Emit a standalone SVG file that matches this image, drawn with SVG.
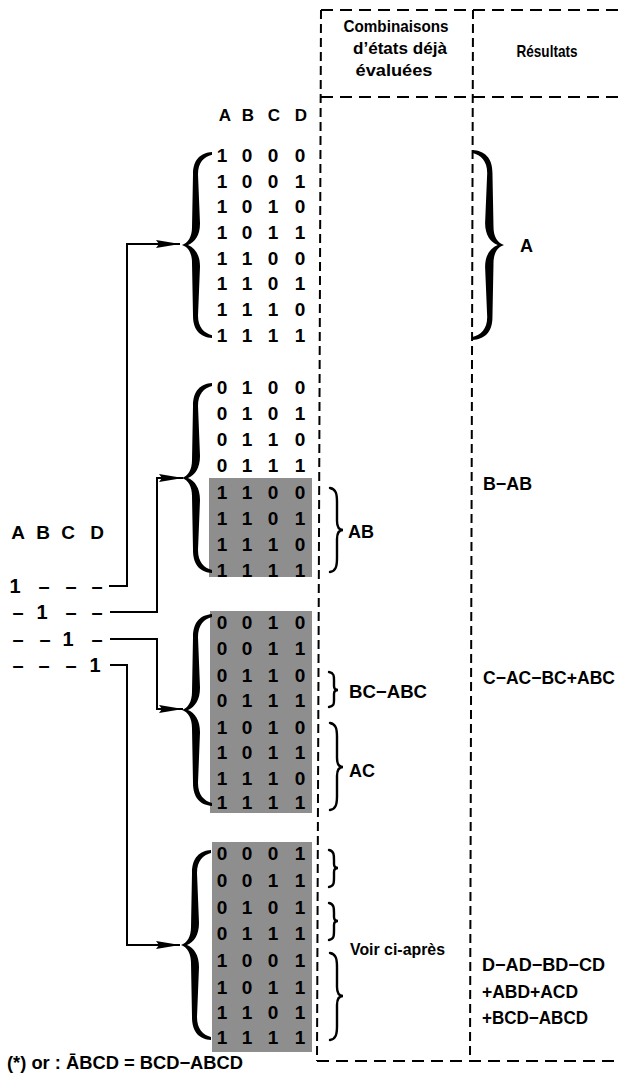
<svg xmlns="http://www.w3.org/2000/svg" width="619" height="1076" viewBox="0 0 619 1076">
<style>
.t{font-family:"Liberation Sans",Arial,sans-serif;font-weight:bold;fill:#000}
.hd{font-size:17px;text-anchor:middle}
.dg{font-size:19px;text-anchor:middle}
.lb{font-size:18px}
.frame{fill:none;stroke:#000;stroke-width:2}
.fh{stroke-dasharray:12 7}
.fv{stroke-dasharray:9 5}
.con{fill:none;stroke:#000;stroke-width:2}
.sb{fill:none;stroke:#000;stroke-width:2.4;stroke-linecap:round}
.shade{fill:#8e8e8e}
</style>
<defs>
<path id="brace" d="M30,-95 C19,-94 11,-88 11,-72 L10,-18 C10,-8 6,-2 0,0 C6,2 10,8 10,18 L11,72 C11,88 19,94 30,95 L30,92 C22,90 16,84 16,72 L18,22 C18,10 13,3 6,0 C13,-3 18,-10 18,-22 L16,-72 C16,-84 22,-90 30,-92 Z" fill="#000"/>
<marker id="arr" viewBox="0 0 24 8" refX="24" refY="4" markerWidth="24" markerHeight="8" markerUnits="userSpaceOnUse" orient="auto">
<path d="M0,0 L24,4 L0,8 L3,4 Z" fill="#000"/>
</marker>
</defs>

<g id="frame">
<line class="frame fh" x1="321" y1="10" x2="619" y2="10"/>
<line class="frame fh" x1="321" y1="97" x2="619" y2="97"/>
<line class="frame fh" x1="317" y1="1061" x2="619" y2="1061"/>
<line class="frame fv" x1="321" y1="10" x2="317" y2="1061"/>
<line class="frame fv" x1="473" y1="10" x2="470" y2="1061"/>
</g>

<g id="header">
<text class="t hd" x="396" y="32" textLength="105" lengthAdjust="spacingAndGlyphs">Combinaisons</text>
<text class="t hd" x="400" y="54" textLength="94" lengthAdjust="spacingAndGlyphs">d’états déjà</text>
<text class="t hd" x="394" y="76" textLength="77" lengthAdjust="spacingAndGlyphs">évaluées</text>
<text class="t hd" x="547" y="57" textLength="61" lengthAdjust="spacingAndGlyphs">Résultats</text>
</g>

<g id="matrix-header">
<text class="t" style="font-size:17px;text-anchor:middle" x="225 248 274 301" y="121">ABCD</text>
</g>

<g id="group1">
<use href="#brace" transform="translate(182,245) scale(1,0.98)"/>
<text class="t dg" x="222 247 273 300" y="162">1000</text>
<text class="t dg" x="222 247 273 300" y="188">1001</text>
<text class="t dg" x="222 247 273 300" y="213">1010</text>
<text class="t dg" x="222 247 273 300" y="239">1011</text>
<text class="t dg" x="222 247 273 300" y="265">1100</text>
<text class="t dg" x="222 247 273 300" y="290">1101</text>
<text class="t dg" x="222 247 273 300" y="316">1110</text>
<text class="t dg" x="222 247 273 300" y="342">1111</text>
</g>

<g id="group2">
<rect class="shade" x="209" y="478" width="103" height="99"/>
<use href="#brace" transform="translate(182,478)"/>
<text class="t dg" x="222 247 273 300" y="394">0100</text>
<text class="t dg" x="222 247 273 300" y="420">0101</text>
<text class="t dg" x="222 247 273 300" y="446">0110</text>
<text class="t dg" x="222 247 273 300" y="472">0111</text>
<text class="t dg" x="222 247 273 300" y="499">1100</text>
<text class="t dg" x="222 247 273 300" y="525">1101</text>
<text class="t dg" x="222 247 273 300" y="551">1110</text>
<text class="t dg" x="222 247 273 300" y="577">1111</text>
</g>

<g id="group3">
<rect class="shade" x="210" y="611" width="102" height="202"/>
<use href="#brace" transform="translate(182,710) scale(1,1.01)"/>
<text class="t dg" x="222 247 273 300" y="629">0010</text>
<text class="t dg" x="222 247 273 300" y="655">0011</text>
<text class="t dg" x="222 247 273 300" y="682">0110</text>
<text class="t dg" x="222 247 273 300" y="707">0111</text>
<text class="t dg" x="222 247 273 300" y="734">1010</text>
<text class="t dg" x="222 247 273 300" y="759">1011</text>
<text class="t dg" x="222 247 273 300" y="785">1110</text>
<text class="t dg" x="222 247 273 300" y="809">1111</text>
</g>

<g id="group4">
<rect class="shade" x="212" y="842" width="100" height="210"/>
<use href="#brace" transform="translate(181,945)"/>
<text class="t dg" x="222 247 273 300" y="860">0001</text>
<text class="t dg" x="222 247 273 300" y="887">0011</text>
<text class="t dg" x="222 247 273 300" y="914">0101</text>
<text class="t dg" x="222 247 273 300" y="940">0111</text>
<text class="t dg" x="222 247 273 300" y="967">1001</text>
<text class="t dg" x="222 247 273 300" y="994">1011</text>
<text class="t dg" x="222 247 273 300" y="1019">1101</text>
<text class="t dg" x="222 247 273 300" y="1044">1111</text>
</g>

<g id="inputs">
<text class="t dg" x="18 43 68 97" y="539">ABCD</text>
<text class="t" style="font-size:20px;text-anchor:middle" x="15 44 71 97" y="593">1–––</text>
<text class="t" style="font-size:20px;text-anchor:middle" x="18 42 71 97" y="619">–1––</text>
<text class="t" style="font-size:20px;text-anchor:middle" x="18 45 68 97" y="646">––1–</text>
<text class="t" style="font-size:20px;text-anchor:middle" x="18 44 71 95" y="672">–––1</text>
</g>

<g id="connectors">
<path class="con" d="M109,586 H127 V244 H180" marker-end="url(#arr)"/>
<path class="con" d="M110,612 H157 V478 H183" marker-end="url(#arr)"/>
<path class="con" d="M110,639 H157 V709 H183" marker-end="url(#arr)"/>
<path class="con" d="M110,665 H127 V945 H180" marker-end="url(#arr)"/>
</g>

<g id="evaluated">
<path class="sb" d="M330,488 C336,489 337,494 337,502 L337,521 C337,527 339,530 343,530 C339,530 337,533 337,539 L337,558 C337,566 336,571 330,572"/>
<text class="t" style="font-size:18px" x="348" y="538">AB</text>
<path class="sb" d="M329,672 C334,673 334,676 334,680 L334,686 C334,689 336,690 338,690 C336,690 334,691 334,694 L334,700 C334,704 334,706 329,707"/>
<text class="t" style="font-size:18px" x="349" y="698" textLength="78" lengthAdjust="spacingAndGlyphs">BC−ABC</text>
<path class="sb" d="M330,723 C336,724 337,729 337,737 L337,758 C337,764 339,767 343,767 C339,767 337,770 337,776 L337,796 C337,804 336,809 330,810"/>
<text class="t" style="font-size:18px" x="349" y="777">AC</text>
<path class="sb" d="M329,850 C334,851 334,855 334,860 L334,864 C334,867 336,868 338,868 C336,868 334,869 334,872 L334,877 C334,883 334,886 329,887"/>
<path class="sb" d="M329,903 C334,904 334,908 334,913 L334,917 C334,920 336,921 338,921 C336,921 334,922 334,925 L334,930 C334,936 334,939 329,940"/>
<path class="sb" d="M330,953 C336,954 337,959 337,967 L337,987 C337,993 339,996 343,996 C339,996 337,999 337,1005 L337,1026 C337,1034 336,1039 330,1040"/>
<text class="t" style="font-size:17px" x="350" y="955" textLength="95" lengthAdjust="spacingAndGlyphs">Voir ci-après</text>
</g>

<g id="results">
<use href="#brace" transform="translate(504,245) scale(-1.05,1)"/>
<text class="t" style="font-size:18px" x="520" y="252">A</text>
<text class="t lb" x="483" y="490" textLength="49" lengthAdjust="spacingAndGlyphs">B−AB</text>
<text class="t lb" x="483" y="684" textLength="132" lengthAdjust="spacingAndGlyphs">C−AC−BC+ABC</text>
<text class="t lb" x="482" y="971" textLength="123" lengthAdjust="spacingAndGlyphs">D−AD−BD−CD</text>
<text class="t lb" x="482" y="998" textLength="96" lengthAdjust="spacingAndGlyphs">+ABD+ACD</text>
<text class="t lb" x="482" y="1024" textLength="106" lengthAdjust="spacingAndGlyphs">+BCD−ABCD</text>
</g>

<g id="footnote">
<text class="t" style="font-size:18px" x="7" y="1069" textLength="236" lengthAdjust="spacingAndGlyphs">(*) or : ĀBCD = BCD−ABCD</text>
</g>
</svg>
